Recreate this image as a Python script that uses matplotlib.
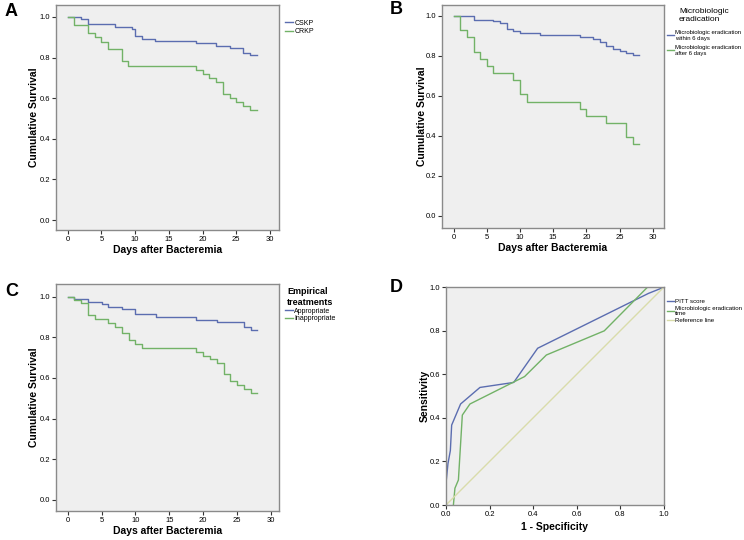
import matplotlib.pyplot as plt

plt.rcParams['font.family'] = ['Liberation Sans', 'DejaVu Sans']

BLUE = '#5b6db0'
GREEN = '#72b267'
REF = '#d9dcaa'
BG = '#efefef'
EDGE = '#8a8a8a'

# Panel A: CSKP vs CRKP
a_cskp_t = [0, 2, 3, 7, 9.5, 10, 11, 13, 19, 22, 24, 26, 27, 28]
a_cskp_s = [1.0, 0.99, 0.964, 0.953, 0.94, 0.906, 0.893, 0.882, 0.870, 0.856, 0.846, 0.821, 0.811, 0.811]
a_crkp_t = [0, 1, 3, 4, 5, 6, 8, 9, 19, 20, 21, 22, 23, 24, 25, 26, 27, 28]
a_crkp_s = [1.0, 0.96, 0.923, 0.901, 0.878, 0.841, 0.782, 0.760, 0.740, 0.721, 0.70, 0.681, 0.621, 0.601, 0.581, 0.561, 0.542, 0.542]

# Panel B: microbiologic eradication
b_early_t = [0, 3, 6, 7, 8, 9, 10, 13, 19, 21, 22, 23, 24, 25, 26, 27, 28]
b_early_s = [1.0, 0.978, 0.974, 0.963, 0.933, 0.923, 0.915, 0.906, 0.897, 0.886, 0.87, 0.85, 0.835, 0.825, 0.815, 0.803, 0.803]
b_late_t = [0, 1, 2, 3, 4, 5, 6, 9, 10, 11, 19, 20, 23, 26, 27, 28]
b_late_s = [1.0, 0.929, 0.893, 0.821, 0.786, 0.75, 0.714, 0.679, 0.607, 0.571, 0.536, 0.5, 0.464, 0.393, 0.357, 0.357]

# Panel C: empirical treatments
c_appr_t = [0, 1, 3, 5, 6, 8, 10, 13, 19, 22, 26, 27, 28]
c_appr_s = [1.0, 0.989, 0.975, 0.962, 0.949, 0.938, 0.913, 0.90, 0.887, 0.874, 0.849, 0.834, 0.834]
c_inap_t = [0, 1, 2, 3, 4, 6, 7, 8, 9, 10, 11, 19, 20, 21, 22, 23, 24, 25, 26, 27, 28]
c_inap_s = [1.0, 0.985, 0.97, 0.911, 0.892, 0.872, 0.852, 0.82, 0.789, 0.767, 0.748, 0.728, 0.708, 0.692, 0.672, 0.618, 0.585, 0.566, 0.546, 0.528, 0.528]

# Panel D: ROC curves
d_pitt_x = [0, 0, 0.009, 0.02, 0.026, 0.067, 0.156, 0.311, 0.421, 0.93, 1.0]
d_pitt_y = [0, 0.10, 0.19, 0.25, 0.367, 0.464, 0.54, 0.563, 0.72, 0.972, 1.0]
d_erad_x = [0.034, 0.041, 0.057, 0.075, 0.11, 0.361, 0.461, 0.727, 0.925, 1.0]
d_erad_y = [0, 0.077, 0.115, 0.413, 0.464, 0.59, 0.689, 0.80, 1.0, 1.0]
d_ref = [0, 1]

W, H = 744, 540
fig = plt.figure(figsize=(W / 100, H / 100), dpi=100)


def make_ax(left, right, top, bottom):
    ax = fig.add_axes([left / W, (H - bottom) / H, (right - left) / W, (bottom - top) / H])
    ax.set_facecolor(BG)
    for side in ['top', 'right', 'left', 'bottom']:
        ax.spines[side].set_color(EDGE)
        ax.spines[side].set_linewidth(1.0)
    ax.tick_params(axis='both', direction='out', length=3, width=0.8, color='#333333',
                   labelsize=5.5, pad=1.5, top=False, right=False)
    return ax


def km_axes(ax, xlim, ylim, ypad):
    ax.set_xlim(*xlim)
    ax.set_ylim(*ylim)
    ax.set_xticks([0, 5, 10, 15, 20, 25, 30])
    ax.set_yticks([0.0, 0.2, 0.4, 0.6, 0.8, 1.0])
    ax.set_yticklabels(['0.0', '0.2', '0.4', '0.6', '0.8', '1.0'])
    ax.set_xlabel('Days after Bacteremia', fontsize=7.5, fontweight='bold', labelpad=1.5)
    ax.set_ylabel('Cumulative Survival', fontsize=7.5, fontweight='bold', labelpad=ypad)


# A
axA = make_ax(56, 279, 5, 230)
axA.step(a_cskp_t, a_cskp_s, where='post', color=BLUE, lw=1.0, label='CSKP')
axA.step(a_crkp_t, a_crkp_s, where='post', color=GREEN, lw=1.0, label='CRKP')
km_axes(axA, (-1.73, 31.33), (-0.049, 1.059), 0)
axA.legend(loc='upper left', bbox_to_anchor=(1.01, 0.95), frameon=False, fontsize=5,
           handlelength=1.2, handletextpad=0.2, labelspacing=0.2, borderpad=0)
fig.text(5 / W, 1 - 11 / H, 'A', fontsize=13, fontweight='bold', va='center')

# B
axB = make_ax(442, 663.7, 5, 228)
axB.step(b_early_t, b_early_s, where='post', color=BLUE, lw=1.0,
         label='Microbiologic eradication\nwithin 6 days')
axB.step(b_late_t, b_late_s, where='post', color=GREEN, lw=1.0,
         label='Microbiologic eradication\nafter 6 days')
km_axes(axB, (-1.76, 31.66), (-0.062, 1.055), -1)
legB = axB.legend(loc='upper left', bbox_to_anchor=(1.0, 1.0), frameon=False, fontsize=4.3,
                  handlelength=1.2, handletextpad=0.2, labelspacing=0.7, borderpad=0,
                  title='Microbiologic\neradication', title_fontsize=6)
legB._legend_box.align = 'center'
legB._legend_box.sep = 5
fig.text(390 / W, 1 - 10 / H, 'B', fontsize=13, fontweight='bold', va='center')

# C
axC = make_ax(56, 279, 284, 510.7)
axC.step(c_appr_t, c_appr_s, where='post', color=BLUE, lw=1.0, label='Appropriate')
axC.step(c_inap_t, c_inap_s, where='post', color=GREEN, lw=1.0, label='Inappropriate')
km_axes(axC, (-1.73, 31.18), (-0.053, 1.062), 0)
legC = axC.legend(loc='upper left', bbox_to_anchor=(1.01, 1.0), frameon=False, fontsize=5,
                  handlelength=1.2, handletextpad=0.2, labelspacing=0.1, borderpad=0,
                  title='Empirical\ntreatments', title_fontproperties={'weight': 'bold', 'size': 6.5})
legC._legend_box.align = 'center'
fig.text(5 / W, 1 - 291 / H, 'C', fontsize=13, fontweight='bold', va='center')

# D
axD = make_ax(446, 663.7, 287.3, 505)
axD.plot(d_pitt_x, d_pitt_y, color=BLUE, lw=1.0, label='PITT score')
axD.plot(d_erad_x, d_erad_y, color=GREEN, lw=1.0, label='Microbiologic eradication\ntime')
axD.plot(d_ref, d_ref, color=REF, lw=1.0, label='Reference line')
axD.set_xlim(0, 1)
axD.set_ylim(0, 1)
axD.set_xticks([0, 0.2, 0.4, 0.6, 0.8, 1.0])
axD.set_yticks([0, 0.2, 0.4, 0.6, 0.8, 1.0])
axD.set_xticklabels(['0.0', '0.2', '0.4', '0.6', '0.8', '1.0'])
axD.set_yticklabels(['0.0', '0.2', '0.4', '0.6', '0.8', '1.0'])
axD.set_xlabel('1 - Specificity', fontsize=7.5, fontweight='bold', labelpad=3)
axD.set_ylabel('Sensitivity', fontsize=7.5, fontweight='bold', labelpad=0)
axD.legend(loc='upper left', bbox_to_anchor=(1.0, 0.96), frameon=False, fontsize=4.4,
           handlelength=1.2, handletextpad=0.2, labelspacing=0.2, borderpad=0)
fig.text(390 / W, 1 - 287 / H, 'D', fontsize=13, fontweight='bold', va='center')

fig.savefig('out.png', dpi=100, facecolor='white')
